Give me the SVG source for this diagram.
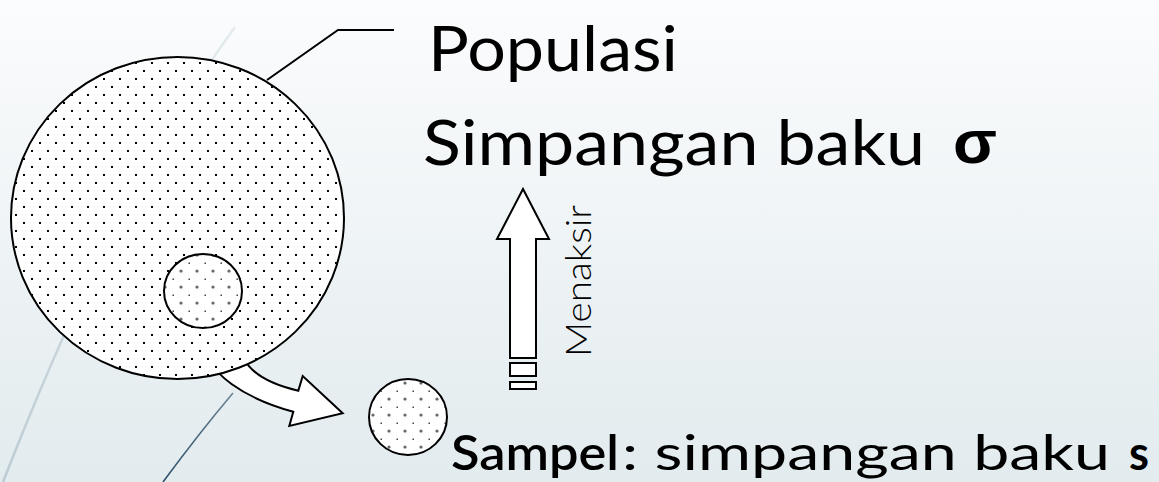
<svg xmlns="http://www.w3.org/2000/svg" width="1159" height="482" viewBox="0 0 1159 482">
  <style>
    .outline { stroke: #000; stroke-width: 2; }
    .label { font-family: Lato, "Liberation Sans", sans-serif; fill: #000; }
    .big { font-size: 62px; }
    .mid { font-size: 48px; }
    .strong { font-weight: 700; }
  </style>
  <defs>
    <linearGradient id="bg" x1="0" y1="0" x2="0" y2="1">
      <stop offset="0" stop-color="#fbfcfd"/>
      <stop offset="1" stop-color="#e2ebee"/>
    </linearGradient>
    <linearGradient id="paleStroke" gradientUnits="userSpaceOnUse" x1="235" y1="27" x2="3" y2="482">
      <stop offset="0" stop-color="#d6e0e5" stop-opacity="0.6"/>
      <stop offset="1" stop-color="#bccbd3"/>
    </linearGradient>
    <linearGradient id="darkStroke" gradientUnits="userSpaceOnUse" x1="233" y1="393" x2="163" y2="482">
      <stop offset="0" stop-color="#6a8597"/>
      <stop offset="1" stop-color="#2c4f68"/>
    </linearGradient>
    <!-- fine dot screen for the population -->
    <pattern id="dotsFine" patternUnits="userSpaceOnUse" width="16" height="16">
      <rect x="7" y="14" width="2" height="2" fill="#000"/>
      <rect x="15" y="6" width="2" height="2" fill="#000"/>
      <rect x="-1" y="6" width="2" height="2" fill="#000"/>
    </pattern>
    <!-- coarser grey dot screen for samples -->
    <pattern id="dotsSample" patternUnits="userSpaceOnUse" width="16" height="16">
      <rect width="16" height="16" fill="#fff"/>
      <circle cx="5" cy="15" r="1.6" fill="#6a6a6a"/>
      <circle cx="5" cy="-1" r="1.6" fill="#6a6a6a"/>
      <rect x="12.5" y="6.5" width="1.4" height="1.4" fill="#222"/>
    </pattern>
  </defs>

  <rect width="1159" height="482" fill="url(#bg)"/>

  <!-- decorative background strokes -->
  <path d="M235,27 Q118,187 3,482" fill="none" stroke="url(#paleStroke)" stroke-width="2.5"/>
  <path d="M233,393 Q200,432 163,482" fill="none" stroke="url(#darkStroke)" stroke-width="1.6"/>

  <g id="connectors">
    <!-- leader from population circle to its label -->
    <polyline points="267,80 338,30 394,30" fill="none" class="outline"/>
    <!-- curved arrow: drawing a sample out of the population -->
    <path d="M200,335 L239,341 C240,365 260,382 298.3,390.7 L302.7,376 L342.7,413.3 L289.3,426 L293.3,411.7 C250,400 203,375 200,335 Z" fill="#fff" class="outline" stroke-linejoin="miter"/>
    <!-- upward block arrow: estimating -->
    <path d="M510,358 L510,239 L497,239 L523,189 L549,239 L536,239 L536,358 Z" fill="#fff" class="outline"/>
    <rect x="510" y="363" width="26" height="13" fill="#fff" class="outline"/>
    <rect x="510" y="382" width="26" height="7" fill="#fff" class="outline"/>
  </g>

  <g id="population">
    <ellipse cx="177.5" cy="218" rx="166.5" ry="161" fill="#fff"/>
    <ellipse cx="177.5" cy="218" rx="166.5" ry="161" fill="url(#dotsFine)" class="outline"/>
    <text class="label big" x="428" y="71" textLength="250" lengthAdjust="spacingAndGlyphs">Populasi</text>
    <text class="label big" x="423" y="165" textLength="502" lengthAdjust="spacingAndGlyphs">Simpangan baku</text>
    <text x="953" y="163" font-family="'Liberation Sans', sans-serif" font-weight="700" font-size="62" textLength="44" lengthAdjust="spacingAndGlyphs">σ</text>
  </g>

  <g id="subset">
    <ellipse cx="203" cy="291" rx="39" ry="37" fill="url(#dotsSample)" class="outline"/>
  </g>

  <g id="sample">
    <ellipse cx="408" cy="417" rx="39" ry="38" fill="url(#dotsSample)" class="outline"/>
    <text class="label mid" font-weight="600" x="451" y="470" textLength="168" lengthAdjust="spacingAndGlyphs">Sampel</text>
    <text class="label mid" x="622" y="470" textLength="488" lengthAdjust="spacingAndGlyphs">: simpangan baku</text>
    <text class="label mid strong" x="1129" y="470" textLength="20" lengthAdjust="spacingAndGlyphs">s</text>
  </g>

  <g id="estimate-label">
    <text class="label" font-size="36" font-weight="300" transform="translate(591,357) rotate(-90)" textLength="152" lengthAdjust="spacingAndGlyphs">Menaksir</text>
  </g>
</svg>
